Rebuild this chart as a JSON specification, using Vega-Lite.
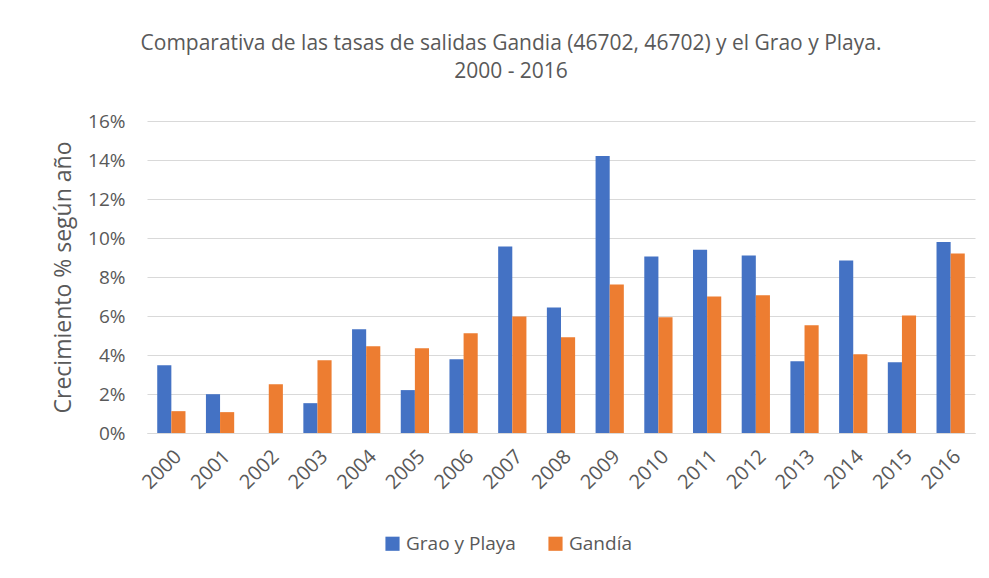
{
  "$schema": "https://vega.github.io/schema/vega-lite/v6.json",
  "width": 828,
  "height": 312,
  "autosize": {"type": "none"},
  "padding": {"left": 147, "top": 121, "right": 14, "bottom": 145},
  "background": "white",
  "title": {
    "text": ["Comparativa de las tasas de salidas Gandia (46702, 46702) y el Grao y Playa.", "2000 - 2016"],
    "font": "Open Sans",
    "fontSize": 21,
    "fontWeight": "normal",
    "color": "#595959",
    "anchor": "middle",
    "dx": -50,
    "offset": 30,
    "lineHeight": 28
  },
  "data": {
    "values": [
      {"year": "2000", "serie": "Grao y Playa", "v": 0.0348},
      {"year": "2000", "serie": "Gandía", "v": 0.0112},
      {"year": "2001", "serie": "Grao y Playa", "v": 0.0199},
      {"year": "2001", "serie": "Gandía", "v": 0.0107},
      {"year": "2002", "serie": "Grao y Playa", "v": 0.0},
      {"year": "2002", "serie": "Gandía", "v": 0.025},
      {"year": "2003", "serie": "Grao y Playa", "v": 0.0153},
      {"year": "2003", "serie": "Gandía", "v": 0.0373},
      {"year": "2004", "serie": "Grao y Playa", "v": 0.0532},
      {"year": "2004", "serie": "Gandía", "v": 0.0445},
      {"year": "2005", "serie": "Grao y Playa", "v": 0.022},
      {"year": "2005", "serie": "Gandía", "v": 0.0435},
      {"year": "2006", "serie": "Grao y Playa", "v": 0.0378},
      {"year": "2006", "serie": "Gandía", "v": 0.0511},
      {"year": "2007", "serie": "Grao y Playa", "v": 0.0956},
      {"year": "2007", "serie": "Gandía", "v": 0.0598},
      {"year": "2008", "serie": "Grao y Playa", "v": 0.0644},
      {"year": "2008", "serie": "Gandía", "v": 0.0491},
      {"year": "2009", "serie": "Grao y Playa", "v": 0.142},
      {"year": "2009", "serie": "Gandía", "v": 0.0762},
      {"year": "2010", "serie": "Grao y Playa", "v": 0.0905},
      {"year": "2010", "serie": "Gandía", "v": 0.0593},
      {"year": "2011", "serie": "Grao y Playa", "v": 0.094},
      {"year": "2011", "serie": "Gandía", "v": 0.07},
      {"year": "2012", "serie": "Grao y Playa", "v": 0.091},
      {"year": "2012", "serie": "Gandía", "v": 0.0706},
      {"year": "2013", "serie": "Grao y Playa", "v": 0.0368},
      {"year": "2013", "serie": "Gandía", "v": 0.0552},
      {"year": "2014", "serie": "Grao y Playa", "v": 0.0884},
      {"year": "2014", "serie": "Gandía", "v": 0.0404},
      {"year": "2015", "serie": "Grao y Playa", "v": 0.0363},
      {"year": "2015", "serie": "Gandía", "v": 0.0603},
      {"year": "2016", "serie": "Grao y Playa", "v": 0.098},
      {"year": "2016", "serie": "Gandía", "v": 0.092}
    ]
  },
  "mark": {"type": "bar"},
  "encoding": {
    "x": {
      "field": "year",
      "type": "nominal",
      "title": null,
      "scale": {"paddingInner": 0.42, "paddingOuter": 0.21},
      "axis": {
        "labelAngle": -45,
        "labelFont": "Open Sans",
        "labelFontSize": 20,
        "labelColor": "#595959",
        "labelPadding": 13,
        "ticks": false,
        "domainColor": "#d9d9d9",
        "domainWidth": 1
      }
    },
    "xOffset": {"field": "serie", "type": "nominal", "sort": ["Grao y Playa", "Gandía"]},
    "y": {
      "field": "v",
      "type": "quantitative",
      "title": "Crecimiento % según año",
      "scale": {"domain": [0, 0.16], "nice": false},
      "axis": {
        "format": ".0%",
        "values": [0, 0.02, 0.04, 0.06, 0.08, 0.1, 0.12, 0.14, 0.16],
        "labelFont": "Open Sans",
        "labelFontSize": 19,
        "labelColor": "#595959",
        "labelPadding": 22,
        "ticks": false,
        "domain": false,
        "gridColor": "#d9d9d9",
        "gridWidth": 1,
        "titleFont": "Open Sans",
        "titleFontSize": 23,
        "titleFontWeight": "normal",
        "titleColor": "#595959",
        "titlePadding": 12
      }
    },
    "color": {
      "field": "serie",
      "type": "nominal",
      "sort": ["Grao y Playa", "Gandía"],
      "scale": {"domain": ["Grao y Playa", "Gandía"], "range": ["#4472c4", "#ed7d31"]},
      "legend": {
        "title": null,
        "orient": "none",
        "direction": "horizontal",
        "legendX": 236,
        "legendY": 413,
        "symbolType": "square",
        "symbolSize": 200,
        "symbolStrokeWidth": 0,
        "labelFont": "Open Sans",
        "labelFontSize": 19,
        "labelColor": "#595959",
        "columnPadding": 30
      }
    }
  },
  "config": {"view": {"stroke": null}}
}
